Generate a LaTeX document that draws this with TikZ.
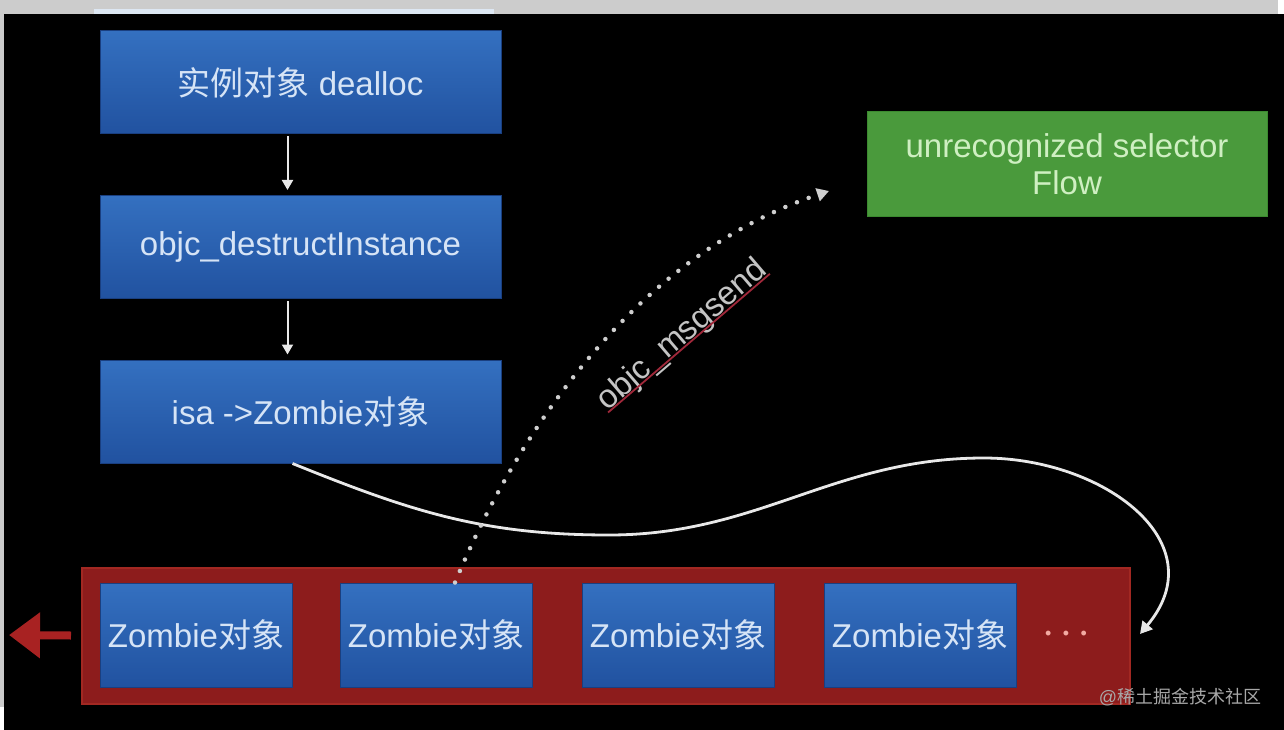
\documentclass[tikz,border=0pt]{standalone}
\usepackage{fontspec}
\setmainfont{Liberation Sans}
\newfontfamily\cjk{Noto Sans CJK SC}
\usetikzlibrary{arrows.meta,calc}
\definecolor{bandgray}{HTML}{CCCCCC}
\definecolor{lightbar}{HTML}{DDE7F3}
\definecolor{bluetop}{HTML}{3470C0}
\definecolor{bluebot}{HTML}{2152A0}
\definecolor{blueedge}{HTML}{1A3F80}
\definecolor{boxtext}{HTML}{D6E4F6}
\definecolor{greenfill}{HTML}{4A9A3C}
\definecolor{greenedge}{HTML}{3C8A30}
\definecolor{greentext}{HTML}{CFEFC2}
\definecolor{redfill}{HTML}{8D1C1C}
\definecolor{rededge}{HTML}{A22822}
\definecolor{redarrowc}{HTML}{A82222}
\definecolor{wirec}{HTML}{E8E8E8}
\definecolor{dotc}{HTML}{CFCFCF}
\definecolor{labelc}{HTML}{C4C4C4}
\definecolor{underc}{HTML}{A0283A}
\definecolor{dotsc}{HTML}{F2AAA2}
\definecolor{wmc}{HTML}{A8A8A8}
\tikzset{
  bluebox/.style={rectangle, minimum width=401pt, minimum height=103pt, inner sep=0pt,
    top color=bluetop, bottom color=bluebot, draw=blueedge, line width=1pt,
    text=boxtext, font=\fontsize{33}{38}\selectfont},
  zombiebox/.style={bluebox, minimum width=192pt, minimum height=104pt},
  greenbox/.style={rectangle, minimum width=400pt, minimum height=104pt, inner sep=0pt,
    fill=greenfill, draw=greenedge, line width=1pt, align=center,
    text=greentext, font=\fontsize{33}{37}\selectfont},
  container/.style={rectangle, minimum width=1048pt, minimum height=136pt, inner sep=0pt,
    fill=redfill, draw=rededge, line width=2pt},
  downarrow/.style={draw=wirec, line width=2pt, -{Triangle[length=10pt,width=11pt]}},
  wire/.style={draw=wirec, line width=2.8pt, -{Triangle[length=12pt,width=13pt]}},
  dotwire/.style={draw=dotc, line width=4.5pt, line cap=round, dash pattern=on 0pt off 12.5pt,
    -{Triangle[length=12pt,width=13pt,fill=dotc]}},
  redarrow/.style={draw=redarrowc, line width=8pt, -{Triangle[length=31pt,width=44pt]}},
}
\begin{document}
\begin{tikzpicture}[x=1pt,y=-1pt]
\useasboundingbox (0,0) rectangle (1284,730);
% background
\fill[bandgray] (0,0) rectangle (1278,14);
\fill[white] (1278,0) rectangle (1284,14);
\fill[black] (4,14) rectangle (1284,730);
\fill[bandgray] (0,14) rectangle (4,707);
\fill[white] (0,707) rectangle (4,730);
\fill[lightbar] (94,9) rectangle (494,14);

% left column
\node[bluebox] (b1) at (300.5,82.5) {{\cjk 实例对象} dealloc};
\node[bluebox] (b2) at (300.5,247) {objc\_destructInstance};
\node[bluebox] (b3) at (300.5,411.5) {isa ->Zombie{\cjk 对象}};
\draw[downarrow, shorten <=2pt, shorten >=5pt] ([xshift=-13pt]b1.south) -- ([xshift=-13pt]b2.north);
\draw[downarrow, shorten <=2pt, shorten >=5pt] ([xshift=-13pt]b2.south) -- ([xshift=-13pt]b3.north);

% selector box
\node[greenbox] (sel) at (1067,164) {unrecognized selector\\Flow};

% zombie container
\node[container] (cont) at (606,635.5) {};
\node[zombiebox] (z1) at (196,635) {Zombie{\cjk 对象}};
\node[zombiebox] (z2) at (436,635) {Zombie{\cjk 对象}};
\node[zombiebox] (z3) at (678,635) {Zombie{\cjk 对象}};
\node[zombiebox] (z4) at (920,635) {Zombie{\cjk 对象}};
\node[text=dotsc, font=\fontsize{18}{20}\selectfont, inner sep=0pt] (dots) at (1066,635) {•\hspace{11.5pt}•\hspace{11.5pt}•};

% left red arrow
\coordinate (leftend) at (9,635);
\draw[redarrow] ([xshift=-10pt]cont.west) -- (leftend);

% white wire to the end of the list
\coordinate (wireend) at (1140,634);
\draw[wire] ([xshift=-8pt]b3.south) to[out=-22,in=180] (609,535)
  to[out=0,in=180] (984,458) to[out=0,in=50,looseness=1.3] (wireend);

% dotted message send
\coordinate (sendend) at (829,191);
\draw[dotwire] ([xshift=19pt]z2.north) .. controls (526,412) and (648,251) .. (sendend);

% label
\node[rotate=40.6, anchor=base, inner sep=0pt, text=labelc, font=\fontsize{33}{38}\selectfont] (lbl) at (688,342) {objc\_msgsend};
\draw[underc, line width=1.8pt] ($(lbl.base west)!1.5pt!-90:(lbl.base east)$) -- ($(lbl.base east)!1.5pt!90:(lbl.base west)$);

% watermark
\node[text=wmc, font=\fontsize{18}{21}\selectfont] (wm) at (1180,697) {@{\cjk 稀土掘金技术社区}};
\end{tikzpicture}
\end{document}
